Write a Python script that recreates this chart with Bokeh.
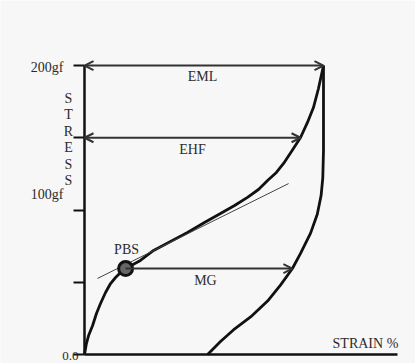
from bokeh.plotting import figure
from bokeh.models import Range1d, LinearAxis, FixedTicker, Arrow, OpenHead, ColumnDataSource
from bokeh.core.properties import value
from bokeh.embed import file_html
from bokeh.resources import INLINE

# ---- data (strain % scaled so peak = 100, stress in gf) ----
load_strain = [0, 0.8, 1.7, 3.4, 5.0, 6.7, 8.8, 10.9, 13.0, 15.1, 17.2, 23.4, 28.9, 36.0,
               43.1, 50.2, 56.9, 62.8, 68.2, 72.8, 76.6, 80.3, 83.3, 86.6, 90.4, 93.3,
               95.8, 97.9, 100]
load_stress = [0, 7.6, 13.1, 20.1, 28.4, 35.3, 42.9, 49.1, 53.3, 56.7, 59.5, 65.1, 72.0, 78.2,
               84.4, 91.3, 97.6, 103.1, 108.7, 114.2, 120.4, 126.0, 132.2, 140.5, 150.2, 160.6,
               170.9, 184.1, 200]
unload_strain = [100, 100, 100, 99.7, 99.0, 97.4, 94.6, 90.4, 87.0, 82.0, 76.6, 69.5, 62.3, 56.9, 51.5]
unload_stress = [200, 169, 141, 122, 110, 97, 84, 70, 59.5, 48, 37, 26, 17, 9, 0]
tangent_strain = [5.4, 85.4]
tangent_stress = [52.6, 118.3]
pbs_strain = [17.2]
pbs_stress = [59.5]
eml = {"y": 200, "x0": 0, "x1": 100, "label": "EML"}
ehf = {"y": 150, "x0": 0, "x1": 90.4, "label": "EHF"}
mg = {"y": 59.5, "x0": 17.2, "x1": 87.0, "label": "MG"}
y_ticks = [0, 50, 100, 150, 200]
x_axis_end = 131
y_axis_end = 200

FONT = value("Liberation Serif")
INK = "#111111"
TXT = "#2b2b2b"
BG = "#f7f7f7"

p = figure(width=415, height=363, output_backend="svg", toolbar_location=None,
           x_range=Range1d(-35.15, 138.5), y_range=Range1d(-6.23, 245.0),
           x_axis_location=None, y_axis_location=None, min_border=0,
           background_fill_color=BG, border_fill_color=BG, outline_line_color=None)
p.grid.visible = False

# axes through the library, fixed at the origin
yax = LinearAxis(fixed_location=0, ticker=FixedTicker(ticks=y_ticks), bounds=(0, y_axis_end),
                 major_tick_out=11, major_tick_in=0, minor_tick_line_color=None,
                 axis_line_width=2.5, axis_line_color=INK, major_tick_line_width=2,
                 major_tick_line_color=INK, major_label_text_font_size="13px",
                 major_label_overrides={t: "" for t in y_ticks})
p.add_layout(yax, "left")
xax = LinearAxis(fixed_location=0, ticker=FixedTicker(ticks=[]), bounds=(0, x_axis_end),
                 major_tick_out=0, major_tick_in=0, minor_tick_line_color=None,
                 axis_line_width=2.5, axis_line_color=INK, major_label_text_font_size="13px")
p.add_layout(xax, "below")

# curves
p.line(load_strain, load_stress, line_width=2.8, line_color=INK)
p.line(unload_strain, unload_stress, line_width=2.8, line_color=INK)
p.line(tangent_strain, tangent_stress, line_width=1, line_color="#444444")
p.scatter(pbs_strain, pbs_stress, size=14, fill_color="#666666", line_color=INK, line_width=3)

# dimension arrows
for d, both in ((eml, True), (ehf, True), (mg, False)):
    p.add_layout(Arrow(x_start=d["x0"], y_start=d["y"], x_end=d["x1"], y_end=d["y"],
                       start=OpenHead(size=9, line_width=2, line_color="#333333") if both else None,
                       end=OpenHead(size=9, line_width=2, line_color="#333333"),
                       line_width=2, line_color="#333333"))

src = ColumnDataSource(dict(
    x=[-8.8, -8.8, 49.4, 45.2, 50.6, 17.6],
    y=[198.6, 110.7, 192.4, 141.9, 51.2, 72.7],
    t=["200gf", "100gf", "EML", "EHF", "MG", "PBS"],
    a=["right", "right", "center", "center", "center", "center"],
))
p.text(x="x", y="y", text="t", text_align="a", text_baseline="middle", source=src,
       text_font=FONT, text_font_size="14px", text_color=TXT)
p.text(x=[-2.5], y=[-0.7], text=["0.0"], text_align="right", text_baseline="middle",
       text_font=FONT, text_font_size="13px", text_color=TXT)
p.text(x=[103.8], y=[7.6], text=["STRAIN  %"], text_align="left", text_baseline="middle",
       text_font=FONT, text_font_size="14px", text_color=TXT)
p.text(x=[-6.7], y=[148.8], text=["S\nT\nR\nE\nS\nS"], text_align="center", text_baseline="middle",
       text_font=FONT, text_font_size="14px", text_color=TXT, text_line_height=1.1)

open("out.html", "w").write(file_html(p, INLINE))
